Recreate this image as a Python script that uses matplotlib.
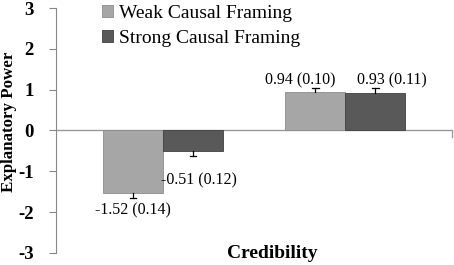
import numpy as np
import matplotlib.pyplot as plt

plt.rcParams['font.family'] = ['Liberation Serif', 'DejaVu Serif']

categories = ['Credibility']
series = ['Weak Causal Framing', 'Strong Causal Framing']
weak_means = [-1.52, 0.94]
weak_se = [0.14, 0.10]
strong_means = [-0.51, 0.93]
strong_se = [0.12, 0.11]
yticks = [-3, -2, -1, 0, 1, 2, 3]

fig = plt.figure(figsize=(4.54, 2.65), dpi=100)
ax = fig.add_axes([0.1233, 0.0453, 0.8723, 0.9245])

x = np.arange(len(weak_means))
w = 0.329
ax.bar(x - w / 2, weak_means, w, color='#a6a6a6', edgecolor='#8c8c8c', linewidth=0.6,
       label=series[0])
ax.bar(x + w / 2, strong_means, w, color='#595959', edgecolor='#404040', linewidth=0.6,
       label=series[1])

# one-sided error bars: stub from bar end plus a cap at the outer end
cap = 0.018
for xs, m, s in [(x - w / 2, weak_means, weak_se), (x + w / 2, strong_means, strong_se)]:
    for xi, mi, si in zip(xs, m, s):
        end = mi - si if mi < 0 else mi + si
        ax.plot([xi, xi], [mi, end], color='black', linewidth=0.9)
        ax.plot([xi - cap, xi + cap], [end, end], color='black', linewidth=0.9)

# data labels
lab = dict(ha='center', va='center', fontsize=11.5, family='Liberation Serif')
ax.text(x[0] - w / 2, -1.95, '-1.52 (0.14)', **lab)
ax.text(x[0] + w / 2 + 0.035, -1.22, '-0.51 (0.12)', **lab)
ax.text(x[1] - w / 2 - 0.085, 1.22, '0.94 (0.10)', **lab)
ax.text(x[1] + w / 2 + 0.09, 1.22, '0.93 (0.11)', **lab)

ax.set_xlim(-0.586, 1.584)
ax.set_ylim(-3, 3)
ax.set_yticks(yticks)
ax.set_yticklabels([str(t) for t in yticks], fontsize=13.5, fontweight='bold',
                   family='Liberation Serif')
ax.tick_params(axis='y', length=5, color='#888888', pad=11)
ax.set_xticks([])

for s in ['top', 'right', 'bottom']:
    ax.spines[s].set_visible(False)
ax.spines['left'].set_color('#888888')
ax.axhline(0, color='#999999', linewidth=1, zorder=0)
ax.plot([1.584, 1.584], [0, -0.15], color='#999999', linewidth=1, clip_on=False)

ax.set_ylabel('Explanatory Power', fontsize=12.2, fontweight='bold',
              family='Liberation Serif', va='center')
ax.yaxis.set_label_coords(-0.119, 0.535)
ax.text(0.6, -3.02, categories[0], ha='center', va='center', fontsize=14, fontweight='bold',
        family='Liberation Serif')

ax.legend(loc='upper left', bbox_to_anchor=(0.072, 1.085), frameon=False,
          prop={'family': 'Liberation Serif', 'size': 14},
          handlelength=0.55, handleheight=0.55, handletextpad=0.3, labelspacing=0.42)

fig.savefig('out.png', dpi=100)
